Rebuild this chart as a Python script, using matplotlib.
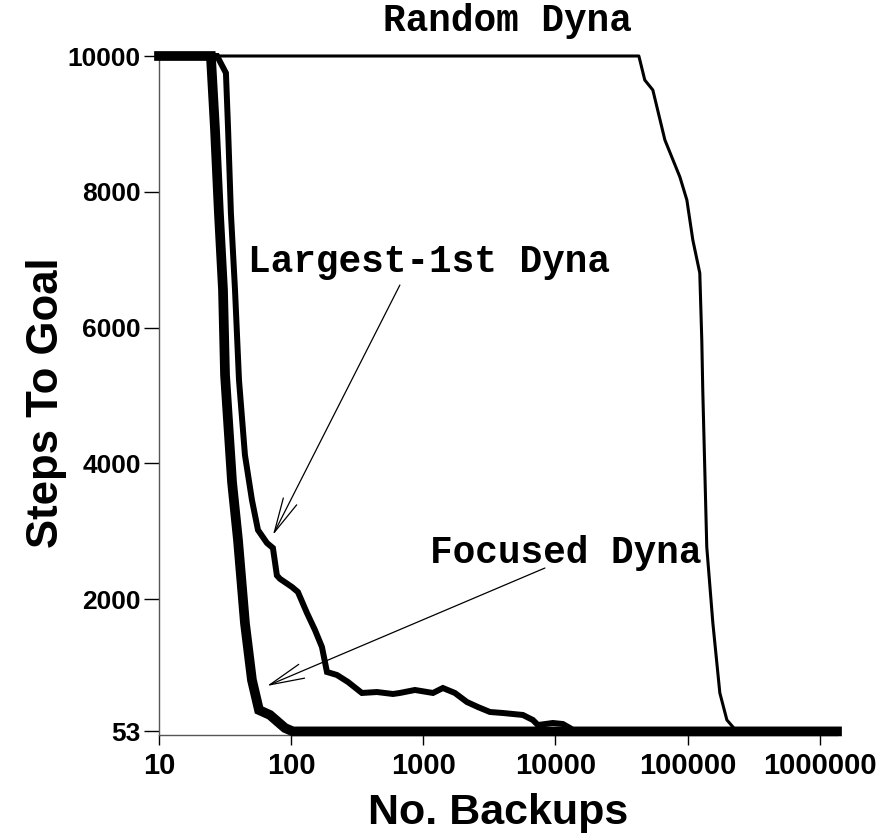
import matplotlib
matplotlib.use("Agg")
import matplotlib.pyplot as plt
from matplotlib.ticker import FixedLocator, FixedFormatter, NullLocator

# ---- data ----
focused_x = [10, 24.7, 26.5, 28.4, 30.5, 31.6, 35.7, 39.6, 44.7, 50.5, 57.1, 69.1, 89.8, 103, 1.35e6]
focused_y = [10000, 10000, 8940, 7688, 6554, 5302, 3726, 2872, 1649, 810, 368, 295, 103, 53, 53]

largest_x = [10, 27.5, 32.1, 33.3, 35.0, 37.6, 40.3, 44.7, 50.5, 56.1, 65.6, 72.8, 78.0, 82.3,
             101.4, 112.5, 131.7, 151.4, 171, 186.6, 222, 269, 343, 446, 589, 665, 864,
             1183, 1406, 1734, 2138, 2589, 3191, 4000, 5667, 6745, 7362, 9550, 11370,
             12860, 14000, 1.35e6]
largest_y = [10000, 10000, 9750, 8940, 7688, 6554, 5228, 4124, 3461, 3019, 2828, 2754, 2350, 2300,
             2180, 2106, 1797, 1546, 1296, 928, 884, 781, 619, 633, 604, 619, 663,
             619, 692, 619, 486, 412, 339, 324, 295, 221, 147, 177, 162,
             103, 53, 53]

random_x = [10, 42760, 47400, 54550, 67300, 87400, 98700, 109500, 123600, 128000, 130200,
            139600, 155200, 175300, 198200, 235600, 1.35e6]
random_y = [10000, 10000, 9646, 9499, 8763, 8218, 7879, 7290, 6804, 5817, 5081,
            2769, 1649, 619, 221, 53, 53]

x_ticks = [10, 100, 1000, 10000, 100000, 1000000]
x_tick_labels = ["10", "100", "1000", "10000", "100000", "1000000"]
y_ticks = [53, 2000, 4000, 6000, 8000, 10000]
y_tick_labels = ["53", "2000", "4000", "6000", "8000", "10000"]

series_names = ["Random Dyna", "Largest-1st Dyna", "Focused Dyna"]

# ---- figure ----
W, H = 883, 835
fig = plt.figure(figsize=(W / 100, H / 100), dpi=100)
ax = fig.add_axes([159 / W, (H - 735) / H, (837 - 159) / W, (735 - 56) / H])

ax.plot(random_x, random_y, color="black", lw=2.2, clip_on=False, solid_joinstyle="round", zorder=3)
ax.plot(largest_x, largest_y, color="black", lw=4.3, clip_on=False, solid_joinstyle="miter", zorder=4)
ax.plot(focused_x, focused_y, color="black", lw=7.0, clip_on=False, solid_joinstyle="miter", zorder=5)

ax.set_xscale("log")
ax.set_xlim(10, 1.35e6)
ax.set_ylim(0, 10000)

ax.xaxis.set_major_locator(FixedLocator(x_ticks))
ax.xaxis.set_major_formatter(FixedFormatter(x_tick_labels))
ax.xaxis.set_minor_locator(NullLocator())
ax.yaxis.set_major_locator(FixedLocator(y_ticks))
ax.yaxis.set_major_formatter(FixedFormatter(y_tick_labels))

for s in ["top", "right"]:
    ax.spines[s].set_visible(False)
for s in ["left", "bottom"]:
    ax.spines[s].set_linewidth(1.0)
    ax.spines[s].set_color("#555555")

ax.tick_params(axis="y", direction="out", length=11, width=1.0, pad=2, color="black")
ax.tick_params(axis="x", direction="out", length=7, width=1.0, pad=5, color="black")
for lab in ax.get_yticklabels():
    lab.set_fontfamily("Liberation Sans")
    lab.set_fontweight("bold")
    lab.set_fontsize(19)
for lab in ax.get_xticklabels():
    lab.set_fontfamily("Liberation Sans")
    lab.set_fontweight("bold")
    lab.set_fontsize(21)

ax.set_xlabel("No. Backups", fontfamily="Liberation Sans", fontweight="bold", fontsize=31)
ax.set_ylabel("Steps To Goal", fontfamily="Liberation Sans", fontweight="bold", fontsize=31.5)
ax.xaxis.set_label_coords(0.5, -0.115)
ax.xaxis.label.set_va("center")
ax.yaxis.set_label_coords(-0.166, 0.489)
ax.yaxis.label.set_va("center")

mono = dict(family="Liberation Mono", weight="bold", size=27.2)
ax.text(4365, 10368, series_names[0], ha="center", va="baseline", clip_on=False, **mono)
ax.text(47.1, 6819, series_names[1], ha="left", va="baseline", clip_on=False, **mono)
ax.text(1122, 2533, series_names[2], ha="left", va="baseline", clip_on=False, **mono)

arrow = dict(arrowstyle="->,head_length=1.25,head_width=0.27", color="black", lw=0.9,
             shrinkA=0, shrinkB=0, mutation_scale=20)
ax.annotate("", xy=(72.8, 2945), xytext=(665, 6627), arrowprops=arrow, zorder=6)
ax.annotate("", xy=(65.6, 722), xytext=(8318, 2459), arrowprops=arrow, zorder=6)

fig.savefig("out.png", dpi=100)
